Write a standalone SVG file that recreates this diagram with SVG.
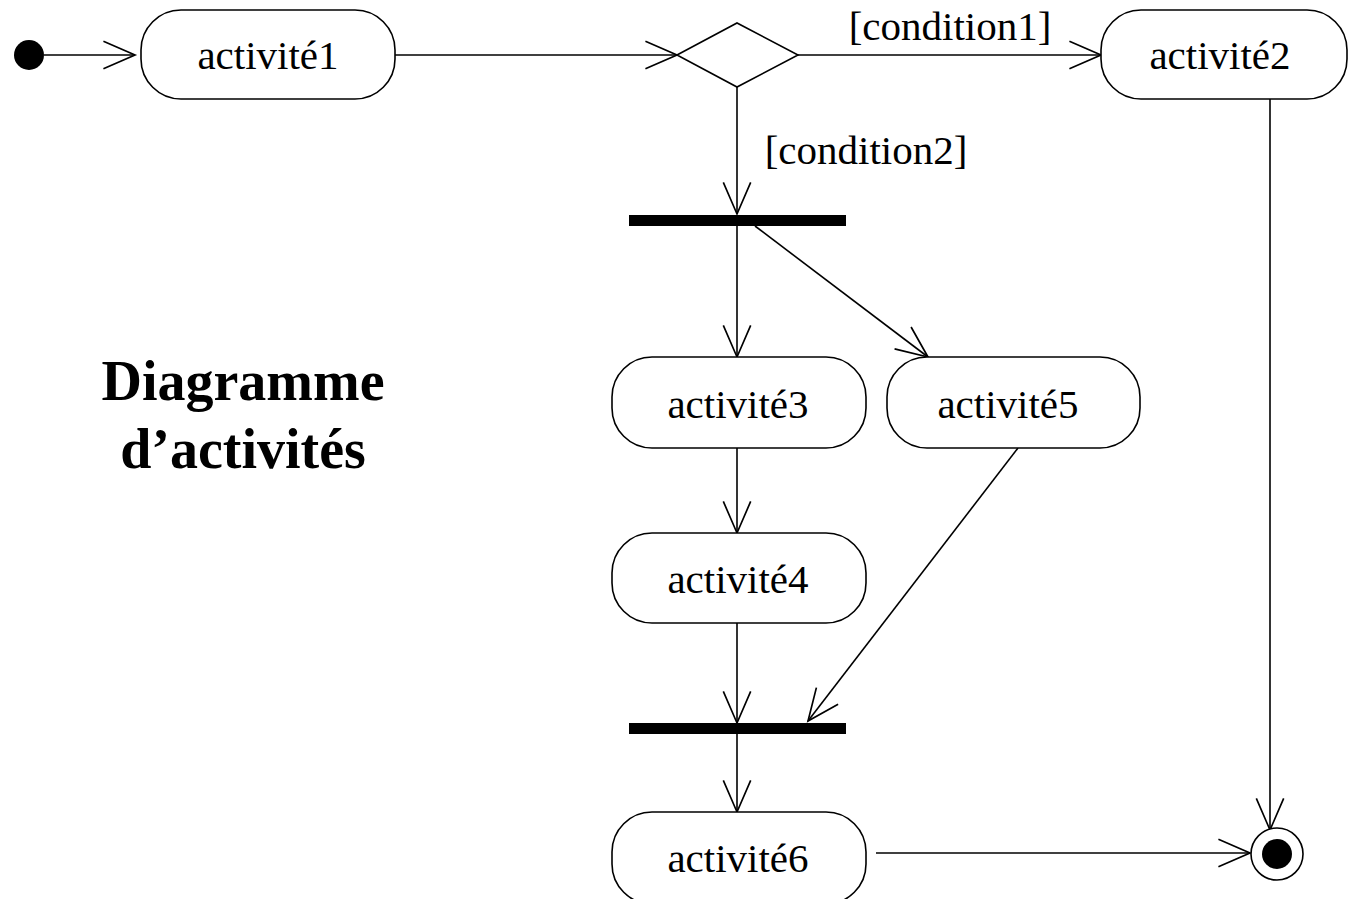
<svg xmlns="http://www.w3.org/2000/svg" width="1348" height="899" viewBox="0 0 1348 899">
<style>
.act{fill:#fff;stroke:#000;stroke-width:1.6}
.lbl{font-family:"Liberation Serif","Times New Roman",serif;font-size:41px;fill:#000}
.title{font-family:"Liberation Serif","Times New Roman",serif;font-size:56px;font-weight:bold;fill:#000}
.edge{fill:none;stroke:#000;stroke-width:1.6}
</style>
<defs>
<marker id="arr" markerUnits="userSpaceOnUse" markerWidth="40" markerHeight="40" viewBox="-34 -16 38 32" refX="0" refY="0" orient="auto" overflow="visible">
<path d="M-30,-13 L0,0 L-30,13" fill="none" stroke="#000" stroke-width="1.6"/>
</marker>
</defs>
<rect width="1348" height="899" fill="#fff"/>

<g id="connectors">
<line class="edge" x1="44" y1="55" x2="135" y2="55" marker-end="url(#arr)"/>
<line class="edge" x1="395" y1="55" x2="677" y2="55" marker-end="url(#arr)"/>
<line class="edge" x1="798" y1="55" x2="1101" y2="55" marker-end="url(#arr)"/>
<line class="edge" x1="737" y1="87" x2="737" y2="214" marker-end="url(#arr)"/>
<line class="edge" x1="1270" y1="99" x2="1270" y2="830" marker-end="url(#arr)"/>
<line class="edge" x1="737" y1="226" x2="737" y2="357" marker-end="url(#arr)"/>
<line class="edge" x1="755" y1="226" x2="928" y2="357" marker-end="url(#arr)"/>
<line class="edge" x1="737" y1="448" x2="737" y2="533" marker-end="url(#arr)"/>
<line class="edge" x1="737" y1="623" x2="737" y2="723" marker-end="url(#arr)"/>
<line class="edge" x1="1018" y1="448" x2="808" y2="721" marker-end="url(#arr)"/>
<line class="edge" x1="737" y1="734" x2="737" y2="812" marker-end="url(#arr)"/>
<line class="edge" x1="876" y1="853" x2="1250" y2="853" marker-end="url(#arr)"/>
<text class="lbl" x="950" y="40" text-anchor="middle">[condition1]</text>
<text class="lbl" x="866" y="164" text-anchor="middle">[condition2]</text>
</g>

<g id="start"><circle cx="29" cy="55" r="15" fill="#000"/></g>

<g id="activite1">
<rect class="act" x="141" y="10" width="254" height="89" rx="40" ry="40"/>
<text class="lbl" x="268" y="69" text-anchor="middle">activité1</text>
</g>

<g id="decision"><polygon points="677,55 737,23 798,55 737,87" fill="#fff" stroke="#000" stroke-width="1.6"/></g>

<g id="activite2">
<rect class="act" x="1101" y="10" width="246" height="89" rx="40" ry="40"/>
<text class="lbl" x="1220" y="69" text-anchor="middle">activité2</text>
</g>

<g id="fork"><rect x="629" y="215" width="217" height="11" fill="#000"/></g>

<g id="activite3">
<rect class="act" x="612" y="357" width="254" height="91" rx="40" ry="40"/>
<text class="lbl" x="738" y="418" text-anchor="middle">activité3</text>
</g>

<g id="activite5">
<rect class="act" x="887" y="357" width="253" height="91" rx="40" ry="40"/>
<text class="lbl" x="1008" y="418" text-anchor="middle">activité5</text>
</g>

<g id="activite4">
<rect class="act" x="612" y="533" width="254" height="90" rx="40" ry="40"/>
<text class="lbl" x="738" y="593" text-anchor="middle">activité4</text>
</g>

<g id="join"><rect x="629" y="723" width="217" height="11" fill="#000"/></g>

<g id="activite6">
<rect class="act" x="612" y="812" width="254" height="92" rx="40" ry="40"/>
<text class="lbl" x="738" y="872" text-anchor="middle">activité6</text>
</g>

<g id="end">
<circle cx="1277" cy="854" r="26" fill="#fff" stroke="#000" stroke-width="1.6"/>
<circle cx="1277" cy="854" r="15" fill="#000"/>
</g>

<g id="title">
<text class="title" x="243" y="400" text-anchor="middle">Diagramme</text>
<text class="title" x="243" y="468" text-anchor="middle">d’activités</text>
</g>
</svg>
